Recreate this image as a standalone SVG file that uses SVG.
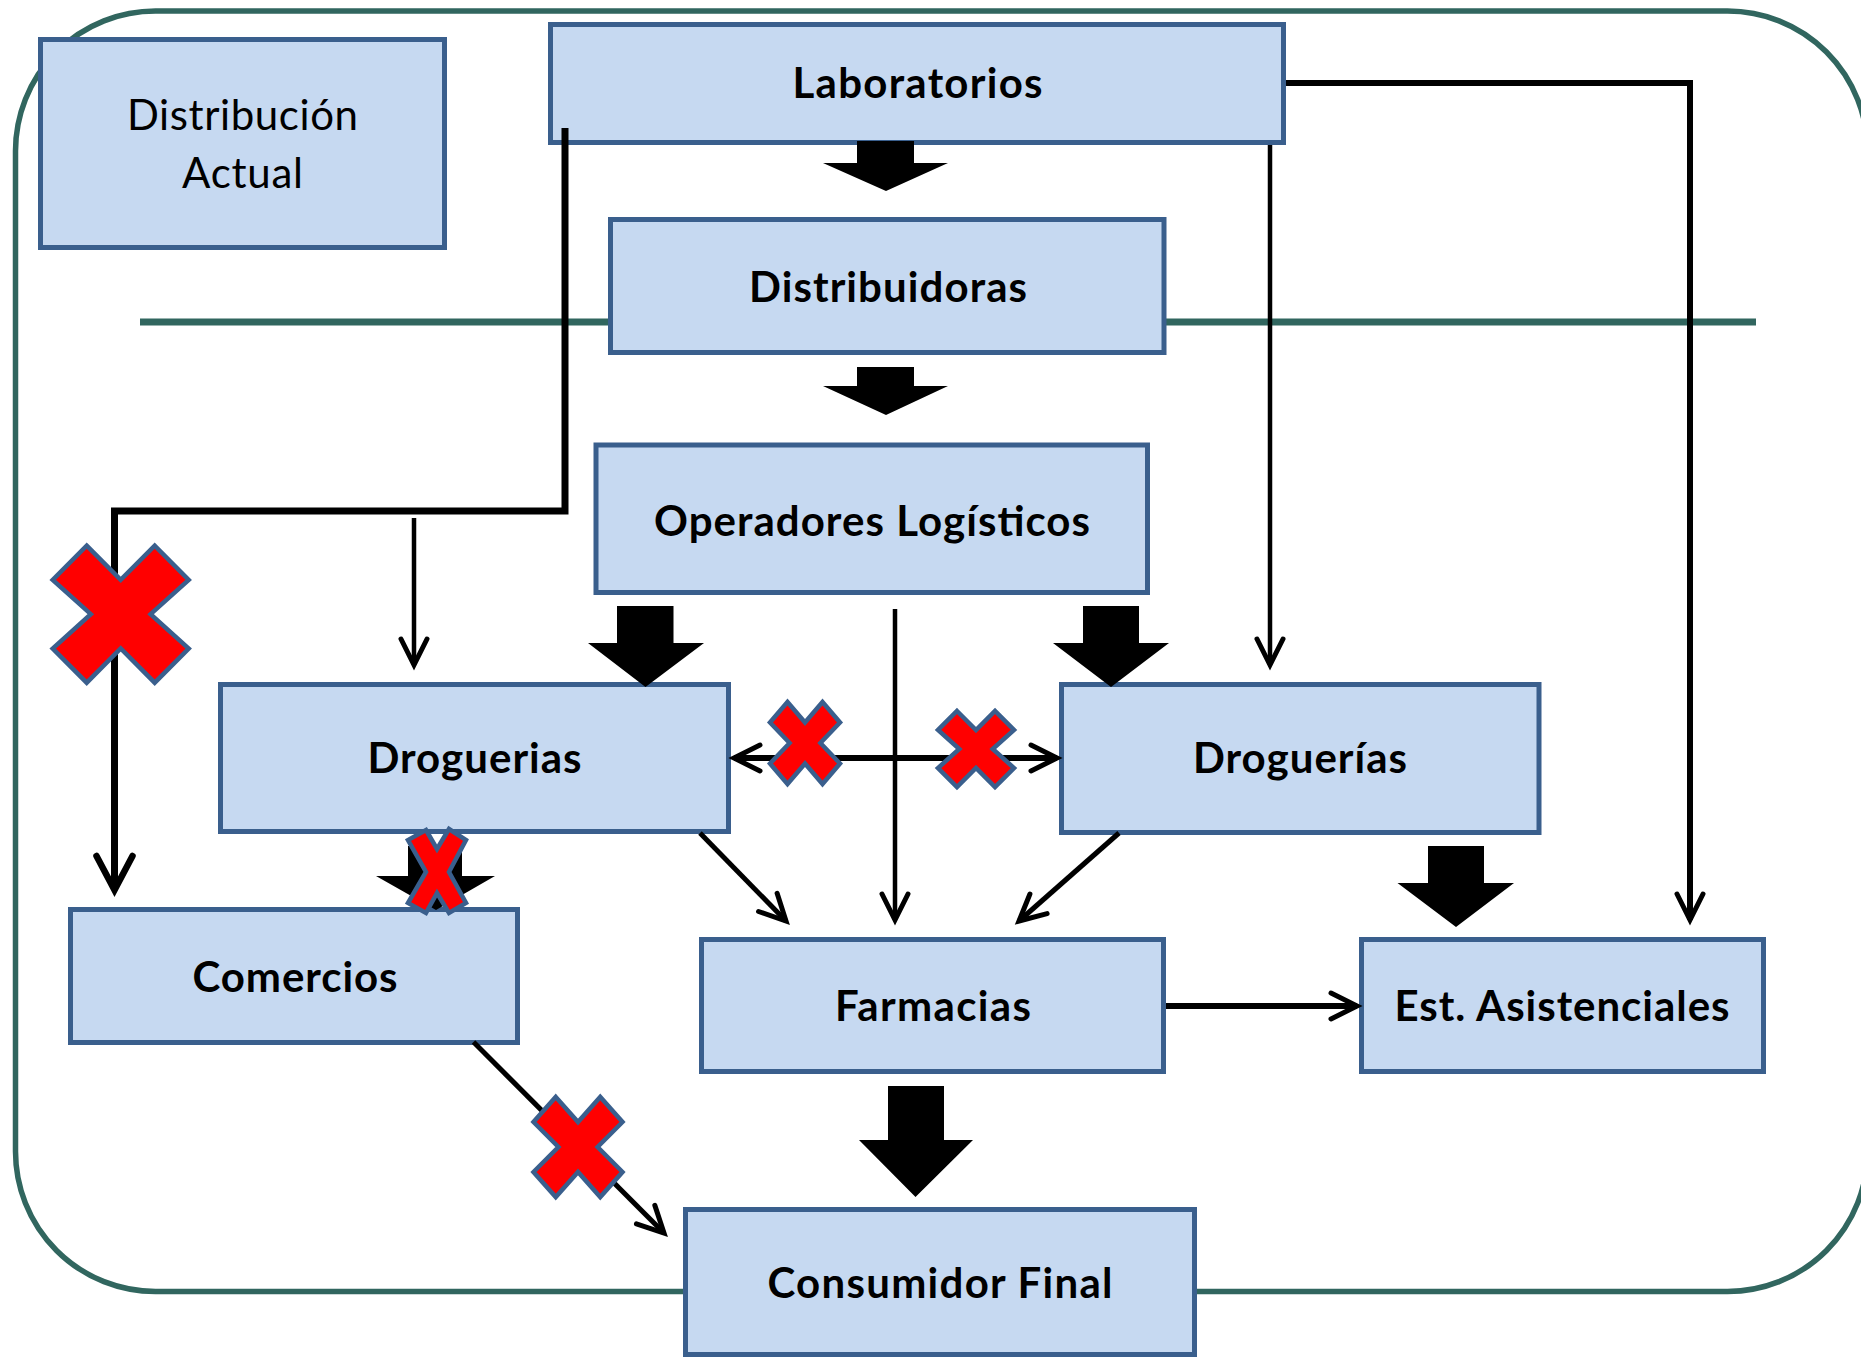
<svg xmlns="http://www.w3.org/2000/svg" width="1861" height="1359" viewBox="0 0 1861 1359">
<defs>
<style>
.box{fill:#C6D9F1;stroke:#3A5F8D;stroke-width:5}
.lbl{font-family:Lato,"Open Sans","Liberation Sans",sans-serif;font-size:42px;font-weight:bold;fill:#000;text-anchor:middle}
.reg{font-weight:normal}
.con{fill:none;stroke:#000}
.blk{fill:#000;stroke:none}
.x{fill:#FF0000;stroke:#3A5F8D;stroke-width:4.5;stroke-linejoin:miter}
</style>
<marker id="arr" markerUnits="userSpaceOnUse" markerWidth="40" markerHeight="40" refX="0" refY="0" orient="auto-start-reverse" overflow="visible">
<path d="M-26,-13 L0,0 L-26,13" fill="none" stroke="#000" stroke-width="5" stroke-linecap="round"/>
</marker>
<marker id="arrL" markerUnits="userSpaceOnUse" markerWidth="50" markerHeight="50" refX="0" refY="0" orient="auto" overflow="visible">
<path d="M-34,-18 L0,0 L-34,18" fill="none" stroke="#000" stroke-width="6.5" stroke-linecap="round"/>
</marker>
</defs>
<rect width="1861" height="1359" fill="#FFFFFF"/>
<g id="frame">
<rect x="15.5" y="11" width="1852" height="1280.5" rx="140" ry="140" fill="none" stroke="#31665F" stroke-width="5.5"/>
<line x1="140" y1="322" x2="1756" y2="322" stroke="#31665F" stroke-width="7"/>
</g>
<g id="node-distribucion-actual">
<rect class="box" x="40.5" y="39.5" width="404" height="208"/>
<text class="lbl reg" x="242.5" y="130" textLength="231">Distribución</text>
<text class="lbl reg" x="242.5" y="188" textLength="121">Actual</text>
</g>
<g id="node-laboratorios">
<rect class="box" x="550.5" y="24.5" width="733" height="118"/>
<text class="lbl" x="917.5" y="98" textLength="250">Laboratorios</text>
</g>
<g id="node-distribuidoras">
<rect class="box" x="610.5" y="219.5" width="553.5" height="133"/>
<text class="lbl" x="888" y="302" textLength="278">Distribuidoras</text>
</g>
<g id="node-operadores">
<rect class="box" x="596" y="445" width="551.5" height="147.5"/>
<text class="lbl" x="872" y="536" textLength="436">Operadores Logísticos</text>
</g>
<g id="node-droguerias-izq">
<rect class="box" x="220.5" y="684.5" width="508" height="147"/>
<text class="lbl" x="474.5" y="773" textLength="214">Droguerias</text>
</g>
<g id="node-droguerias-der">
<rect class="box" x="1061.5" y="684.5" width="477.5" height="148"/>
<text class="lbl" x="1300" y="773" textLength="214">Droguerías</text>
</g>
<g id="node-comercios">
<rect class="box" x="70.5" y="909.5" width="447" height="133"/>
<text class="lbl" x="295" y="992" textLength="205">Comercios</text>
</g>
<g id="node-farmacias">
<rect class="box" x="701.5" y="939.5" width="462" height="132"/>
<text class="lbl" x="933" y="1021" textLength="196">Farmacias</text>
</g>
<g id="node-est-asistenciales">
<rect class="box" x="1361.5" y="939.5" width="402" height="132"/>
<text class="lbl" x="1562" y="1021" textLength="335">Est. Asistenciales</text>
</g>
<g id="node-consumidor-final">
<rect class="box" x="685.5" y="1209.5" width="509" height="145"/>
<text class="lbl" x="940" y="1298" textLength="345">Consumidor Final</text>
</g>
<g id="connectors">
<path class="con" d="M565,128 V511 H114.5 V890" stroke-width="7" marker-end="url(#arrL)"/>
<path class="con" d="M1286,83 H1690 V920" stroke-width="6" marker-end="url(#arr)"/>
<path class="con" d="M1270,145 V665" stroke-width="4.5" marker-end="url(#arr)"/>
<path class="con" d="M414,518 V665" stroke-width="4.5" marker-end="url(#arr)"/>
<path class="con" d="M895,609 V920" stroke-width="4.5" marker-end="url(#arr)"/>
<path class="con" d="M734,758 H1057" stroke-width="6" marker-start="url(#arr)" marker-end="url(#arr)"/>
<path class="con" d="M700,833 L786,921" stroke-width="5" marker-end="url(#arr)"/>
<path class="con" d="M1119,833 L1019,921" stroke-width="5" marker-end="url(#arr)"/>
<path class="con" d="M1166,1006 H1357" stroke-width="6" marker-end="url(#arr)"/>
<path class="con" d="M473.5,1042 L664,1233" stroke-width="5" marker-end="url(#arr)"/>
<polygon class="blk" points="857,141 914,141 914,163 948,163 886,191 823,163 857,163"/>
<polygon class="blk" points="857,367 914,367 914,386 948,386 886,415 823,386 857,386"/>
<polygon class="blk" points="617,606 673.5,606 673.5,643 704,643 645.5,687 588,643 617,643"/>
<polygon class="blk" points="1083,606 1139,606 1139,643 1169,643 1111,687 1053,643 1083,643"/>
<polygon class="blk" points="1428,846 1484,846 1484,883 1514,883 1456,927 1397.5,883 1428,883"/>
<polygon class="blk" points="888,1086 944,1086 944,1140 973,1140 915.5,1197 859,1140 888,1140"/>
<polygon class="blk" points="408,846 462,846 462,876 495,876 436,910 376,876 408,876"/>
</g>
<g id="cross-marks">
<polygon class="x" points="86.7,545.7 120.7,579.9 154.7,545.7 188.7,579.9 150.6,614.2 188.7,648.5 154.7,682.7 120.7,648.5 86.7,682.7 52.7,648.5 90.8,614.2 52.7,579.9"/>
<polygon class="x" points="426,830 437,849 449,829 466,840 449,872 466,903 449,913 437,893 426,913 408,903 426,872 408,840"/>
<polygon class="x" points="787.5,702 805,722.5 822.5,702 840,722.5 820.4,743 840,763.5 822.5,784 805,763.5 787.5,784 770,763.5 789.6,743 770,722.5"/>
<polygon class="x" points="957,711 976,730 995,711 1014,730 992.7,749 1014,768 995,787 976,768 957,787 938,768 959.3,749 938,730"/>
<polygon class="x" points="555.75,1097 578,1122 600.25,1097 622.5,1122 597.6,1147 622.5,1172 600.25,1197 578,1172 555.75,1197 533.5,1172 558.4,1147 533.5,1122"/>
</g>
</svg>
